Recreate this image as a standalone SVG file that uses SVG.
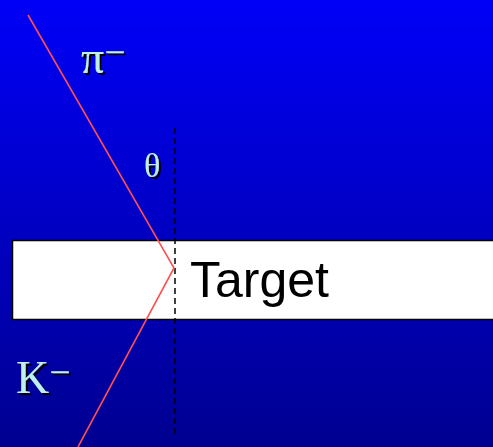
<svg xmlns="http://www.w3.org/2000/svg" width="493" height="447" viewBox="0 0 493 447">
<defs>
<linearGradient id="bg" x1="0" y1="0" x2="0" y2="1">
<stop offset="0" stop-color="#0000F8"/>
<stop offset="1" stop-color="#000090"/>
</linearGradient>
<filter id="sh" x="-20%" y="-20%" width="150%" height="150%">
<feDropShadow dx="2" dy="2" stdDeviation="0" flood-color="#000000"/>
</filter>
</defs>
<style>
.lbl{font-family:"Liberation Serif",serif;fill:#BFEFEF;filter:url(#sh)}
.ray{stroke:#FF5050;stroke-width:1.6;fill:none}
</style>
<rect width="493" height="447" fill="url(#bg)"/>
<g id="target">
<rect x="12.5" y="240.5" width="485" height="79" fill="#FFFFFF" stroke="#000000" stroke-width="1.5"/>
<text x="190" y="297" font-family="Liberation Sans, Arial, sans-serif" font-size="50" fill="#000000">Target</text>
</g>
<g id="connectors">
<line x1="175" y1="128" x2="175" y2="434" stroke="#000000" stroke-width="1.5" stroke-dasharray="6,4"/>
<polyline class="ray" points="28,15 174,268 78,447"/>
</g>
<g id="pion"><text class="lbl" x="81" y="73" font-size="46">π<tspan font-size="38" dy="-8">−</tspan></text></g>
<g id="theta"><text class="lbl" x="144" y="177" font-size="34">θ</text></g>
<g id="kaon"><text class="lbl" x="16" y="393" font-size="46">K<tspan font-size="38" dy="-8">−</tspan></text></g>
</svg>
